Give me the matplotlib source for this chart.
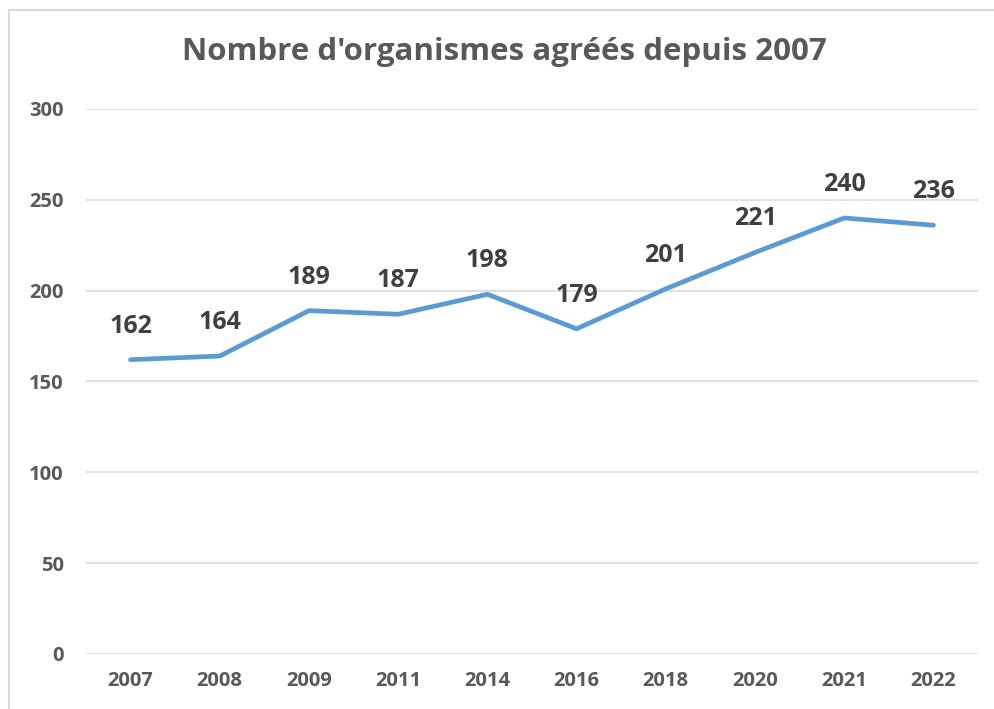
"""Nombre d'organismes agréés depuis 2007."""

import matplotlib

matplotlib.use("Agg")
import matplotlib.pyplot as plt
from matplotlib.patches import Rectangle

years = ["2007", "2008", "2009", "2011", "2014", "2016", "2018", "2020", "2021", "2022"]
organismes = [162, 164, 189, 187, 198, 179, 201, 221, 240, 236]
y_ticks = [0, 50, 100, 150, 200, 250, 300]

plt.rcParams["font.family"] = ["Open Sans", "DejaVu Sans"]

fig = plt.figure(figsize=(9.95, 7.09), dpi=100)
ax = fig.add_axes([0.0864, 0.0776, 0.8966, 0.7687])

# cadre gris du graphique (coupé à droite et en bas)
fig.patches.append(
    Rectangle((9 / 995, -0.1), 1.2, 1.1 - 10 / 709, transform=fig.transFigure,
              fill=False, edgecolor="#d9d9d9", linewidth=1.5)
)

x = range(len(years))
ax.plot(x, organismes, color="#5b9bd5", linewidth=3.4, solid_capstyle="round",
        zorder=3)

for xi, val in zip(x, organismes):
    ax.annotate(str(val), (xi, val), xytext=(0, 19.5), textcoords="offset points",
                ha="center", va="baseline", fontsize=18, fontweight="bold",
                color="#404040")

ax.set_xlim(-0.5, len(years) - 0.5)
ax.set_ylim(0, 300)
ax.set_xticks(list(x))
ax.set_xticklabels(years)
ax.set_yticks(y_ticks)
ax.tick_params(length=0, labelsize=14.5, labelcolor="#595959")
for label in ax.get_xticklabels() + ax.get_yticklabels():
    label.set_fontweight("bold")
ax.tick_params(axis="x", pad=12)
ax.tick_params(axis="y", pad=16)

ax.grid(axis="y", color="#d9d9d9", linewidth=1.2)
ax.set_axisbelow(True)
for spine in ax.spines.values():
    spine.set_visible(False)

fig.text(0.507, 0.926, "Nombre d'organismes agréés depuis 2007", ha="center",
         va="center", fontsize=22.5, fontweight="bold", color="#595959")

fig.savefig("out.png", dpi=100)
